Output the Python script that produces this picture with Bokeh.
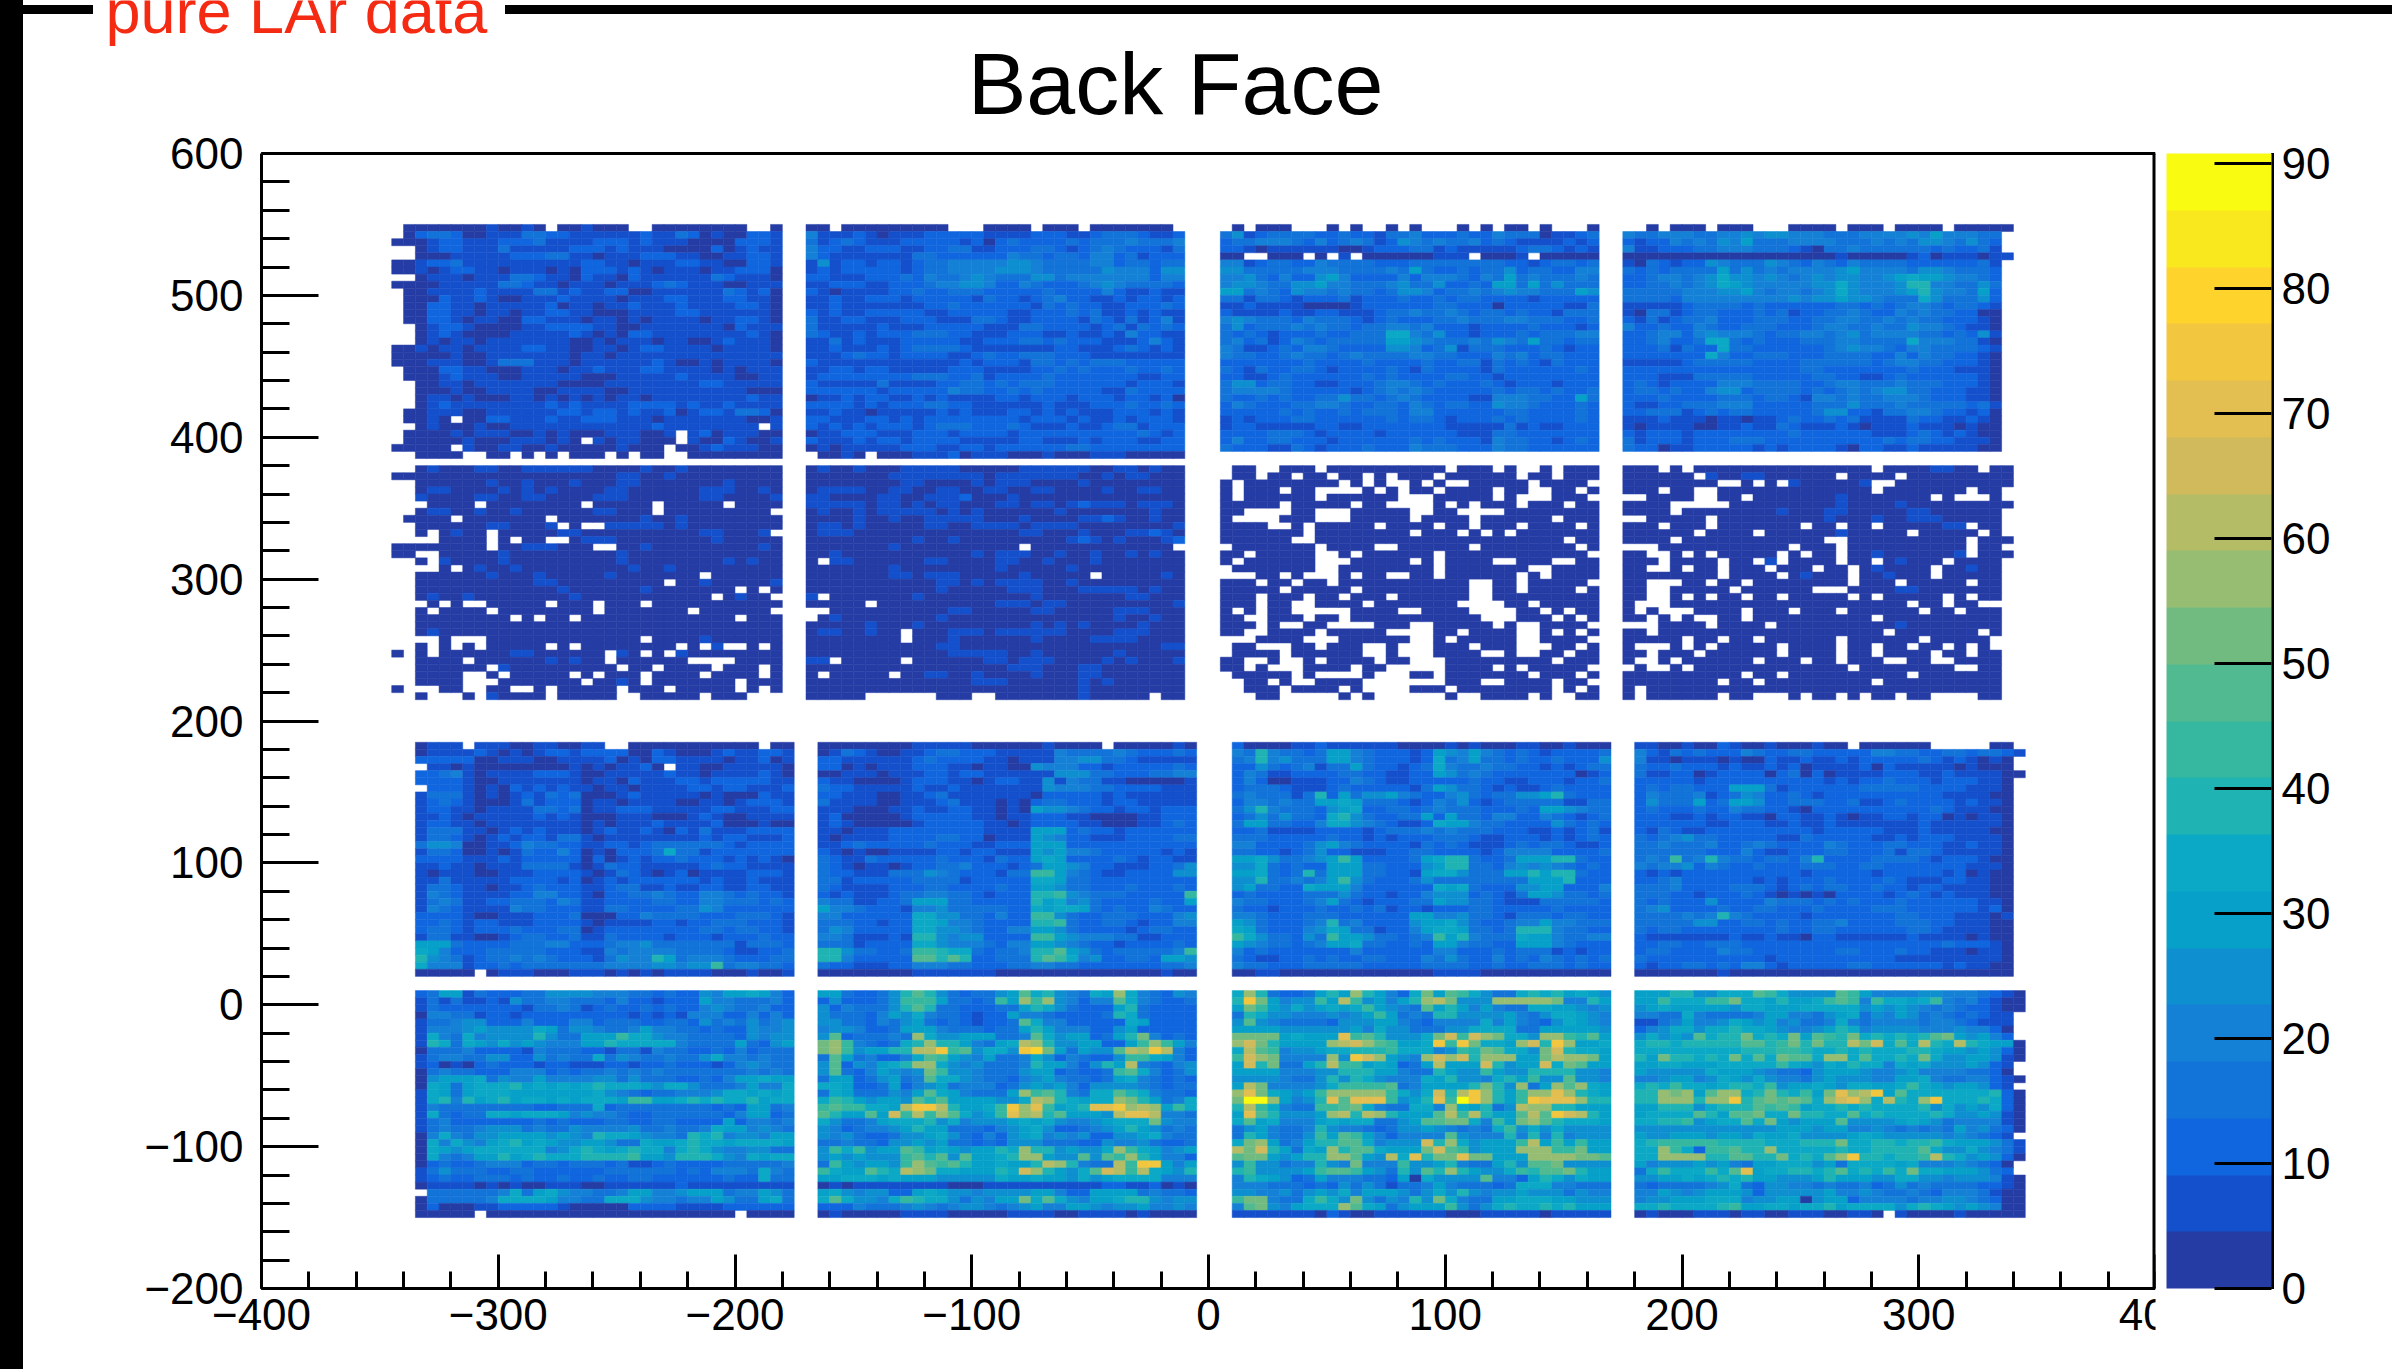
from bokeh.plotting import figure
from bokeh.embed import file_html
from bokeh.resources import INLINE
from bokeh.models import ColumnDataSource, Range1d, Label, FixedTicker, ColorBar, LinearColorMapper, InlineStyleSheet
from bokeh.transform import transform

# colour bands of the z scale
palette = ["#253CA5", "#1450CC", "#1066DF", "#1273D8", "#1581D6", "#0D8FD0", "#06A0C8", "#0CA9C6", "#20B3B3", "#35B89F",
           "#52BA90", "#72BB80", "#97BD72", "#B5BC66", "#D0BA5C", "#E2BF50", "#F3C63F", "#FED32B", "#FAE81F", "#F9FB10"]
z_max = 90.8
x_ticks = [-400, -300, -200, -100, 0, 100, 200, 300, 400]
y_ticks = [-200, -100, 0, 100, 200, 300, 400, 500, 600]
z_ticks = [0, 10, 20, 30, 40, 50, 60, 70, 80, 90]
title_text = "Back Face"
stamp_text = "pure LAr data"

# Estimated cell contents: '.' = empty bin, 0-9 a-j = colour band of the bin. Rows run top to bottom.
T1 = [  # x from -345, y from 550
".00000001 0010.001 000..000 00000..0",
".0233200 11133221 11111211 32010022 1",
"00012211 12223111 12221211 10000222 1",
"..012211 13111112 22121110 00020121 1",
"..000111 11222331 10111222 11001122 1",
"00122311 11111111 22110111 22110022 1",
"00101221 10111010 22212101 11011222 0",
"..011101 11332110 21102111 11132111 0",
"00001111 13321101 11011123 21110011 1",
".0011112 11113312 11220011 11113212 0",
".0002112 10011121 11101112 21112211 0",
".0022110 11111201 10112111 21111221 0",
".0022110 11011221 10001111 22111111 0",
".0022101 10022111 01101011 11011221 0",
"..012210 00011222 21100111 11110211 1",
"..012100 00111112 10102211 11111121 0",
"..010110 11111110 01011101 10012111 0",
"00101101 11122110 01101221 11101111 0",
"00000100 11111110 11011111 11111111 1",
"00011100 13331110 11111121 00101111 0",
".0002211 00011101 12111221 11101011 1",
".0001211 10011111 00011111 21111001 1",
"..001101 11111100 00111111 11221111 1",
"..000100 11110011 11001111 11111100 0",
"..011010 00110101 01011011 11111121 1",
"..012111 11111212 11112222 12112111 1",
".0011100 11111122 12212112 01221332 0",
".0010.00 22111211 22211101 11111100 1",
"..010001 00111111 11111121 1111111. 1",
".0000101 11001010 00111001 .1201110 0",
".0000010 00111010 .1011000 .1002100 1",
"00000.10 01100100 00010 00.0012111 0",
"..0000.. 00.0.0.0 00.0.00. .0000000 0",
]
T2 = [  # x from -170, y from 550
"00.00000 0000...0 000.000. 0000000. 00",
"41112101 11222221 11122211 23332112",
"31232111 22222120 23222232 33343334",
"42211222 11223311 22233212 34322213",
"42111111 13322222 24332332 44231222",
"15122122 12334444 45543333 44233233",
"12122222 12334444 55543333 35444255",
"22111222 32433454 33355344 44444244",
"11222112 22344554 22432223 45433332",
"21011112 23223332 22223222 24211211",
"11211222 12222213 22123422 11212212",
"11211111 11223222 22213232 21122232",
"21211222 22112222 21122232 31121211",
"31122111 22211133 21122221 32131241",
"31111121 11222221 11332222 12313232",
"32112122 23332211 12221121 12142211",
"11312111 22222112 22332322 21112421",
"11211121 23333211 11111221 11232121",
"11123221 22221123 22333222 11111111",
"21111111 11111212 22133232 33322222",
"11221221 11112221 11122323 22232232",
"12222222 23332231 22223222 22221122",
"21111131 11122332 32333222 22212221",
"22222212 22224332 23232222 21132222",
"01121221 12121111 22122212 22122120",
"22221212 22332211 11112111 22232232",
"11211011 11121211 12212121 11222121",
"22111221 21222222 22122212 11212221",
"21212122 21233322 23211121 12331222",
"01122211 12221222 21222222 22223212",
"21112122 12222111 11221112 12221122",
"01011111 22211221 22222233 22222222",
".0010.00 01112011 10001000 11100000",
]
T3 = [  # x from 5, y from 550
".0.000.. .0.0..0. 0...0.0. 00.0...0 ",
"35123333 22322133 42223224 33301123",
"23344432 42343125 43433423 21111212",
"22101111 11001222 33121111 12332121",
"00..000. 0.1.0000 00111.00 01.00000",
"44123322 43333222 33333333 22123323",
"55333334 44333343 63223233 52332244",
"44532422 56422224 24443243 63433343",
"45543355 64433345 33522326 63635333",
"66343254 43433235 54233434 54433365",
"33133212 22312223 22323322 22122222",
"11211110 00012222 22332220 22222113",
"21111211 22111233 43343233 23221333",
"45433324 33321232 22334333 44333223",
"35233343 43323344 34222122 22322212",
"32321222 32233377 43522122 23233344",
"34231243 23333366 54333435 43633233",
"43112324 43222255 42351333 22232122",
"43322343 32343333 44332224 34233222",
"22222223 22223222 23223313 23213222",
"32132233 21222232 13222213 22222232",
"22112322 22223232 22233221 22222222",
"35523322 11222344 32322232 12221222",
"34444322 22212343 43222223 23323223",
"32232322 33533234 32222114 44332263",
"24322233 44322332 43233225 44322232",
"22222323 22323332 44222222 33222232",
"12122233 22222232 33212223 23222232",
"12211111 22112222 22211111 31211222",
"22223332 12222122 22221113 32222222",
"24223322 21222222 32322214 33221232",
"32221132 12223222 43332224 33222222",
]
T4 = [  # x from 175, y from 550
"..0.000. 000...00 00.000.0 000.0000 0",
"43344433 44545544 43334444 54644433 .",
"21224343 54633344 44333434 35543532 .",
"41122233 44433321 03343333 33232231 .",
"00000000 00000000 00100000 12011101 1",
"10321225 43335432 43243333 22222231 .",
"32323333 63534344 44564444 35543332 .",
"22344345 75545434 54554456 76654432 .",
"22334345 76544444 55754445 88443353 .",
"33333444 55643443 45754445 68544362 .",
"33332444 44444454 55655433 37533352 .",
"11111233 33232222 22332323 44323321 .",
"10331233 22232312 23343224 34332200 .",
"21312334 22233322 33443343 43322210 .",
"42232243 22333222 34433433 54432110 .",
"22344245 44432334 43453444 43323251 .",
"22342237 73232223 33443333 74443310 .",
"22231322 73322222 23454432 44333321 .",
"22222227 42233322 23333224 24332210 .",
"11111233 33322223 33333234 43322210 .",
"22222222 22222223 32222222 32221110 .",
"22211133 33322222 33221123 22222210 .",
"23212222 44433332 23443334 33322210 .",
"23323224 55233332 32343455 33222110 .",
"22232222 33323321 44343344 43222110 .",
"21122333 44422222 33353334 33333231 .",
"22333123 23322222 35522133 44322120 .",
"11121110 11011232 23231111 32211210 .",
"10111100 11211321 11210111 21110100 .",
"21222122 22222232 22222111 23212100 .",
"31222122 23332222 22222232 33221110 .",
"32201122 22212122 22102211 21111100 .",
]
U1 = [  # x from -345, y from 380
"..010001 10011111 10000100 10000000 0",
"00000000 00000000 00011001 00000000 0",
"..000000 10010001 00011000 00001000 0",
"..011000 01010100 00110000 00111001 0",
"..100001 10011000 01110000 00110000 1",
"...0000. 00000000 .00000.0 0000.000 0",
"..011001 00100000 011000.0 00000000 .",
".0000.00 00000.00 00000100 10000000 0",
"..000000 110001.0 ..111110 10000000 0",
"..0.0100 .0000011 00000000 00110001 .",
"....0000 .0.00..0 11100000 00010000 0",
"00000000 .0011100 0..00100 00000001 0",
"00..0000 01000000 00010000 00000000 0",
"..0.1000 01000000 00010000 00001010 0",
"....0.01 00100000 00001001 00000000 0",
"..000000 10001000 00100000 00.00000 0",
"..000000 00001100 0000000. 00100000 1",
"..000000 00000010 00000100 00000.0. 0",
"..010010 00000001 00000000 000.0100 .",
"...0.0.. 00000.00 0.000.00 00000000 0",
"..0.0000 .0000000 0.000000 0.000000 .",
"..000000 00.0.00. 00000000 00000.00 0",
"..000000 00000000 00000000 00000000 0",
"..010000 00000000 00000000 00000000 0",
"....0... 00000000 00000.00 00100000 0",
"..0.0.0. 00000.0. 00000000 .0.1..0. 0",
"0.0.0000 00110000 00.10.0. 10000000 0",
"..0000.0 00000101 00.00000 0....000 0",
"..000000 .1000000 000.00.0 000.000. 0",
"..0000.. 0.00000. 0.000.00 00.0000. 0",
"..0000.. .0000000 .0010.00 00000.00 0",
"0...00.. 00..0.00 000.000. 00000.0. 0",
"..0...0. 10000.00 000..000 00.000.. .",
]
U2 = [  # x from -170, y from 380
"01001000 11111000 00111111 00110100",
"00000001 11111110 11111110 01011000",
"00000000 11000010 11100001 00000000",
"01111001 10011001 10011000 01001100",
"11000011 00111200 01000000 00000000",
"11111011 01011000 11011012 11101110",
"01001011 11101010 00000100 00000100",
"00001001 00111110 00100001 12100100",
"01101000 00110011 11011110 00000001",
"01110000 00000000 00110001 00011210",
"00000000 01001000 00000012 10100012",
"00000001 00000000 00.00000 0000000.",
"00100000 00000010 11100100 10010100",
"0.110000 00110000 11001000 10000000",
"00000001 00000000 10000010 00000000",
"00000001 10111000 00100000 .0000010",
"00000000 00011010 11110010 00000000",
"00000000 00010000 01110001 11110100",
"1.000000 01000000 00010000 00011000",
"00000.00 00000000 11101100 00000001",
"..000000 00001100 00011000 00111000",
".0100000 00010000 00000000 00100100",
"00000100 01000000 00010101 00001000",
"01100100 .0001110 11111100 00111000",
"00000000 .0001000 00010000 11110000",
"00000000 00011000 00000000 00000011",
"00000000 00001111 10010000 00100000",
"11.00000 .0000001 10111000 01010001",
"00000000 00000000 01110001 10000000",
"0.00000. 00110010 00010001 10000000",
"00000000 00000011 10000001 01000000",
"00000000 00000000 00000001 00000000",
"00000... ...000.. 00000001 00000.00",
]
U3 = [  # x from 5, y from 380
".00..000 .0000000 000.000. 0..0.000",
".00.00.0 0.00.0.0 00.00000 0.00.000",
"0.000000 00.0.0.. 0.0..000 00.0000.",
"0.000.00 ....0.0. 00.0000. 00..00.0",
"0.000000 .000000. ..00000. 0...000.",
"00000.00 000.00.. ..0.0.00 0.000.00",
"00....00 ...00000 ..00.... 00000000",
"0....000 ...00000 .0000.00 0000.000",
"0000..0. 00000.00 00.00.00 0.0000.0",
"0000000. 00000000 .000.0.0 .000000",
"000000.. 00000000 00000000 00000.0",
".0000000 .0000..0 00000.00 000000.0",
"00.00000 ..0.0000 00.00000 0000000.",
"0.000000 ...00000 .0.0000. .000..00",
".0000000 ..000000 00.00000 00..0000",
"...00.0. ..0.00.. 00.00000 0.0.0000",
"000.00.0 0.000000 00000..0 0.00000.",
"00000.00 000.0000 00000..0 0.0000.0",
"000.000. 00.000.0 00000..0 00000000",
"000.00.. 0000.000 0000.... 00.00000",
"0.0.00.. ...0000. .0000... .00.0.00",
"00..000. 00.00000 000000.. .000.0.0",
"000.0..0 0....000 ..00000. 0..0000.",
"00..0000 .00000.. ..00.000 0..0.0.0",
"...0000. ..000000 ..0.0000 0..0000.",
".00...00 .000..0. ..000.00 0...00.0",
".0000.00 0000..0. ..0000.. 0..00.00",
"00..0..0 .0000.00 ...00000 0000.000",
"00.0...0 000.00.. ...0000. 0.00000.",
".00000.0 ....0... 00.00000 00.000.0",
"..00.0.. 0000.... ...000.. 0000.00.",
"..000.00 00.0.... 000.0000 0000.0.0",
"...00... ..0.0... ...0..00 00.0..00",
]
U4 = [  # x from 175, y from 380
"000.0.00 00000000 00000.00 001100.0 0",
"000000.1 00110000 00.0000. 00000000 0",
"00000000 ..0.0.10 00001..0 00000000 0",
"000.00.. 00000000 00000.00 00000.00 .",
"..0000.. 00.00000 00100000 00.0...0 .",
"0000.... .0000000 00100001 00000000 0",
"0000.000 00000100 01100000 11000000 .",
"..00000. 00000000 01000100 11100000 .",
"000.000. 0000000. 00.00.00 00011.00 .",
"000000.0 000.0000 00100000 .00000.0 .",
"0000.000 00000000 0..00000 00000.00 0",
"...00000 000000.0 00.00000 00000.00 .",
"00..0.0. 00000.0. 00.00100 00001.00 0",
"000.0000 .00.1.00 00.00.01 000.0000 .",
"00..0.00 .000.000 .00.0100 00.00100 .",
"00000000 .0000.01 000.0010 00.00000 .",
"00...00. 00.00000 000.000. 00000.00 .",
"00..0000 0.000000 ...00001 10000000 .",
"00..0.0. 00.00.00 000.0.00 000.0.00 .",
"0...0000 00000000 00000000 .00.00.. .",
"0.0...00 00.000.0 00.00000 0.00.000 .",
"00.0.0.. 00.00000 00000.00 00000000 .",
"...0000. 0000.000 00000001 00000000 .",
"00.00000 00000000 000000.0 000000.0 .",
"00000.00 .00.0000 00.00000 0.00000. .",
"0...0.0. 00000.00 00.00.00 .00.0.0. .",
"00.000.0 00000.00 00.00.00 00.00.00 .",
"0..0.000 000.000. 00.000.. 00..0000 .",
".0..0.00 00000000 000.0000 0000..00 .",
"00000000 00.00.00 00000000 .0000000 .",
"00000000 .00.0000 00000.00 00000000 .",
"0.000000 00000000 00000000 00000000 .",
"0.000000 .00...0. 00.0.00. 00....00 .",
]
V1 = [  # x from -335, y from 185
"0111.111 00110011 ..000000 00000.00",
"01111210 10122122 22002100 01211221",
"22222001 11001111 20102211 11011201",
".1101000 00000101 01120.11 00111110",
"22341011 11222100 11111211 01111210",
"22221001 11111101 10211122 12222211",
".2221010 21212110 11011112 21221112",
"13331010 12132300 01211111 01000211",
"12321000 13122201 10111100 11012221",
"12211011 11332301 12221111 12211122",
"11210111 11212100 01110001 21001111",
"12211011 11111101 01112111 12000100",
"13331101 21211101 21121021 31112222",
"13321012 12213310 11111111 21221112",
"35540011 24332211 22123333 33212222",
"13320010 13224201 02223733 12222222",
"22221112 12222202 01212232 22121210",
"11211011 13333101 32211111 23221111",
"10111001 11222210 13210120 11112221",
"11311111 22221201 21222222 12112111",
"13321101 12322211 23311211 22112211",
"14321111 22442210 22334322 44323221",
"13431122 33324311 22223322 44333232",
"14321111 43322211 33222233 54222222",
"22221001 11222300 02243333 22233321",
"22321221 11222210 11112212 23332221",
"23321222 32223301 22222222 33233221",
"13311001 23322311 32222122 21222322",
"66632222 33344222 34453333 33313332",
"76422233 33322211 43444433 33211223",
"85431233 43432221 35448634 44322233",
"74441223 23333333 44445545 59344332",
"00000.01 11000111 01010111 10001001",
]
V2 = [  # x from -165, y from 185
"00000000 11111000 00010000 .0000010",
"01321001 12332221 11114333 34322232",
"22111111 23222211 01114455 33211111",
"22010111 22211011 00544422 12222232",
"00111011 12212211 11115553 32223344",
"21100001 22211012 21151433 11000001",
"32211111 21121111 11154443 32222111",
"22111001 12311111 11022222 12111111",
"31111001 11231110 10233222 12211111",
"11100011 21122110 10655432 21221222",
"12000001 22222110 11222110 00011222",
"12100000 12222211 01222211 00011232",
"11011122 22222211 11666232 21222222",
"10111122 22332201 11654221 11222233",
"11232222 23222112 22666222 22222222",
"21010011 11221221 11656443 22222121",
"32113222 22322213 22676222 23212211",
"32101101 22334222 12366542 21112235",
"32211133 35432221 33996432 11222255",
"33122222 33331222 22776332 22222222",
"32111122 23322223 22665332 22322232",
"21211123 34433212 22889543 33222229",
"43311223 66633222 22867453 22223226",
"64432221 44533333 22767763 23224322",
"44222222 77553324 22995322 33322245",
"33322122 77644322 22889322 33212244",
"35422222 77554322 44665322 22123322",
"44311121 88545522 22996544 43311222",
"33312222 77544432 44665432 21222232",
"88533223 99877323 3488a653 23333349",
"88422222 aa8a8223 338a9745 22332665",
"32211122 44433222 33443322 22222334",
"00000000 11111110 00000000 00000100",
]
V3 = [  # x from 10, y from 185
"20000112 11111100 00101000 11001000",
"43843323 66432221 26546432 32122223",
"34845333 66432221 27346332 32232225",
"22532341 33632212 37433433 22121233",
"24311222 23322112 26534322 22222012",
"24200111 22432112 22223221 12221223",
"23332111 23222221 36533212 11232222",
"34333138 26355643 22453233 55683222",
"24434336 67633321 24352123 33331133",
"35843332 56722332 34333222 32665433",
"23535332 78532233 62633244 22432123",
"36633224 77543211 27664332 22253232",
"22311112 22212333 43433322 21121231",
"33322222 32212122 23332112 22121232",
"44222235 64322221 32321112 32332112",
"33221235 22111223 32222124 44422223",
"66753345 69622223 67883223 66688322",
"55732322 66633222 56883324 54543232",
"66732383 66633221 67753336 68688322",
"55833434 69532223 53333333 36668222",
"56332276 66422222 27673222 55662224",
"23222233 35322122 45552321 36653323",
"43322234 63212223 36553321 11333332",
"32212223 22323122 12223322 22232222",
"44322233 32222226 64453321 33323322",
"65322234 83422225 66753223 44644333",
"76322245 76331224 67763323 88843322",
"97533253 96653323 49684333 76643344",
"65433234 66733223 26643322 66643222",
"42322222 22422222 24422232 33312122",
"32112232 32233222 43532242 32432323",
"43322233 33322222 33332232 23332322",
"00110000 00000000 01111000 00000000",
]
V4 = [  # x from 180, y from 185
"11001002 10010001 00.00000 0.....00 .",
"42132322 24322332 22224433 22332332 1",
"41101110 10021121 12122222 32121010 .",
"32232221 21121201 11120211 11101000 .",
"31122012 22202302 01111222 11211110 0",
"22222122 22222222 12122322 21222110 .",
"23233222 66631222 22233333 22221110 .",
"24333412 35422321 22222222 22111100 .",
"25333623 66522333 22311232 22212110 .",
"23222322 43322102 22222222 23211100 .",
"22211212 21102211 21011221 22010110 .",
"22222211 22211211 21111111 21111110 .",
"21321122 22222221 22222111 21111100 .",
"32345332 22221132 22221121 22211110 .",
"33433342 23432222 43222332 22112110 .",
"33333322 24211222 33222313 32111110 .",
"34393484 33233248 22223333 21222100 .",
"43445243 22322233 32233222 22221110 .",
"21212222 22222212 22221222 22120100 .",
"22342222 22121222 32222321 11221100 .",
"33342222 33321232 33223221 22111100 .",
"33322122 23210101 02222123 21211100 .",
"32322252 22243332 32322232 22222110 .",
"34522223 22332223 22223332 22222120 .",
"33334348 43222212 22222233 22211101 .",
"33333552 23323223 34222233 32211100 .",
"32332222 22223223 32222223 32111100 .",
"21111111 21121102 21111112 11110100 .",
"22332233 32222222 22222222 22322210 .",
"23322224 33222222 23322232 21110110 .",
"32222222 22212222 22222211 11111110 .",
"21223323 24421222 22332222 22121100 .",
"00000001 00000000 00000000 00000000 .",
]
W1 = [  # x from -335, y from 10
"23661322 23355554 44332322 54667642",
"13131121 53344333 24221222 64433342",
"13222222 21334312 32232322 45433422",
"04433122 12222222 22121214 44224242",
"13345522 24222442 33322332 53435345",
"14445655 55763554 33464433 23225445",
"17437455 55853366 69775443 33325455",
"18737657 56544466 87777743 33363256",
"03334222 21433322 13314332 23242333",
"13443355 22534337 35433433 57443433",
"12010232 22122111 22122322 21245433",
"03433222 44423233 43434333 33334343",
"05666735 44644445 53533322 32466766",
"07636777 86767678 77765775 33346447",
"17636777 66666667 54323344 45776767",
"17848678 67767677 76996678 78778677",
"14333333 33223337 23333333 32326634",
"17323377 67776454 43223333 33246623",
"13422222 22323222 33223322 22624434",
"13433455 53433544 44533433 47664543",
"04743556 66656548 77654438 78455466",
"07475467 86765566 53376678 77677776",
"07656777 77745787 67877478 75445533",
"07434668 67877788 88966588 87547677",
"02322344 42332333 23112322 22333334",
"13533322 33222222 33333323 24443743",
"12322333 23223223 22332222 22322733",
"01111010 10011100 11111121 11111111",
".3333334 73675443 34664456 66344653",
"03333347 77764433 77754434 46533673",
"02000112 22221000 00222211 11222222",
"00000.00 00000000 00000000 000.0000",
]
W2 = [  # x from -165, y from 10
"66322358 a8532335 6a785437 6c743254",
"25222359 99633239 6c9c5424 4a743223",
"52433358 a8332223 36875322 26832222",
"53332465 74332122 64432222 38732222",
"55332435 63232122 3a744222 22762222",
"45542236 66433323 36864442 25622222",
"5a233343 c7556663 34a75662 368b4232",
"bc943237 8c886436 7dc85566 2269c964",
"bc956688 ddg9a577 5ghb6365 5adcgd42",
"3a634224 7a965463 34752432 25997642",
"5a254678 cc754533 34866425 86d43245",
"5a324654 5b955433 35662322 39a74235",
"36623563 4a775433 24564332 36743232",
"77622362 45634442 35656425 55543233",
"37633354 6a764333 6c9a8437 7a874332",
"79865665 a8a66665 57dc8767 7cb86347",
"9a99776d ggd86679 gcf9678f fgcdc697",
"a866a6e9 d9ca7569 fcd8a666 5dffd443",
"75334677 78574555 67675445 6777b544",
"54234456 86633324 56752234 56865343",
"54532235 56753242 56745452 25567433",
"33433255 65633232 55533322 54453223",
"5979566a 96765668 7c885655 7c976456",
"56565559 a8a5a667 8cc655a5 a9c86442",
"39656659 ca9a8667 668dc843 3d9gg646",
"9766a87d cb776668 7ec8657a ed9d7658",
"66777676 66555557 66766575 67777444",
"01011111 11100011 11111111 22112010",
"67545522 67655455 55664226 66634332",
"7a755479 87753546 6b7a7546 67885455",
"22243334 54345543 45644665 45564454",
"01000001 11100000 11110011 11010000",
]
W3 = [  # x from 10, y from 10
"7c832236 86c86427 b6a97533 78786765",
"8gb64559 6d956468 cdb555cc cccb4486",
"6b965756 76796543 a6864643 37766545",
"38755444 54569634 38855556 43577654",
"5a543333 25556643 24444746 43257654",
"66665555 55647553 33557777 33666665",
"bbbb6766 6f9a8555 7be9ecb7 75cc98a6",
"ceb86666 cdeca966 7g9gb776 ce8gc667",
"7da94556 77888977 74598ba7 75be8776",
"9ecb4444 c5gec654 cece8ccc 66bdccb6",
"6e8b3368 d9967623 6d666e85 66e7ba66",
"66664445 58886643 38655965 58888554",
"55554335 85875444 76855478 6955a554",
"6db44445 79999a34 66668b85 c36cac76",
"cfb76569 ccccc975 7e8dgc86 9ccfc876",
"bjjc6458 fafff956 8f9jgc86 9gfffc88",
"8d974339 9ab74337 74c76835 dcc88666",
"6fa85556 cd8dc866 6ad9d866 adaged86",
"7a674446 76773356 aabb7496 bca87776",
"35643348 54432355 65434379 57575555",
"38643359 6a964244 44a54448 48484555",
"7bc63468 8aa74555 e8c75666 9d696966",
"dbe86376 c8aa7666 bea95666 ccc99b66",
"abb65688 cca65d7f 8bbfbb66 6ccccbba",
"59553448 54b44495 56843368 5aab5555",
"89555569 aa965385 a8c86557 98aab866",
"48765236 44433260 75555a44 26875766",
"44433323 25353133 46433323 77744333",
"55445356 57466653 57585455 65553544",
"9bb43379 75b53548 5b743366 77766555",
"4ab54677 7ca76356 66953578 77878666",
"11111110 21001111 11000111 11011111",
]
W4 = [  # x from 180, y from 10
"66688557 77a97555 5a964444 55444321 0",
"66977799 b7768667 9a949776 79434210 0",
"56766666 57766677 77756565 43432210 0",
"44337433 33466443 56735465 34323211 .",
"11346445 76564533 47434444 34432111 .",
"24577577 87765445 68745555 44454420 .",
"57565a78 8b787b6a 98b78787 8ab65642 .",
"78878888 8aa89b8b 88dbe7a7 d87d8766 0",
"77777777 78889987 78787778 87665652 0",
"86b88787 b7a7baa7 cc7a7787 b7556651 0",
"66776667 77779765 76877476 75556521 .",
"65555576 66543325 66654456 44443320 .",
"44566457 65754435 65554466 74334421 0",
"78797767 88795667 65776679 76566521 .",
"88cbc6ac c78b8796 bfcdg6a7 77777782 0",
"88ccc8cc g8ababa7 cefc7d87 cg777872 0",
"66888578 88a9a967 78787777 85756572 0",
"67777a86 aab77b88 77a78777 78755651 0",
"77889567 7a7b6566 6a555567 65344441 0",
"55555555 55556665 66445434 34364532 0",
"65566656 65766755 55676555 55454321 .",
"78999998 88877788 8b778878 89766653 1",
"77c97299 a88c7777 78778888 a7557543 1",
"77cccc88 aa88b787 acg88788 9d875652 0",
"64555656 43667775 63777767 44454320 .",
"37977797 af677887 8a78797b 77666532 .",
"55667678 78665556 86665577 55455541 0",
"32333345 73255443 43342353 43333221 0",
"44654566 65255555 64454334 32444310 0",
"45566677 74556605 66244443 44554320 0",
"77877778 96677677 86777757 87656540 0",
"01000111 01100111 00110.10 00010000 0",
]

# block: (rows, x of left edge, y of top edge, number of columns)
blocks = [(T1, -345, 550, 33), (T2, -170, 550, 32), (T3, 5, 550, 32), (T4, 175, 550, 33),
          (U1, -345, 380, 33), (U2, -170, 380, 32), (U3, 5, 380, 32), (U4, 175, 380, 33),
          (V1, -335, 185, 32), (V2, -165, 185, 32), (V3, 10, 185, 32), (V4, 180, 185, 33),
          (W1, -335, 10, 32), (W2, -165, 10, 32), (W3, 10, 10, 32), (W4, 180, 10, 33)]
bin_size = 5
band = z_max / len(palette)
digits = "0123456789abcdefghij"

left, right, top, bottom, z = [], [], [], [], []
for rows, x0, y0, ncols in blocks:
    for j, row in enumerate(rows):
        row = row.replace(" ", "")
        row = row[:ncols].ljust(ncols, row[-1])
        for i, ch in enumerate(row):
            if ch == ".":
                continue
            left.append(x0 + i * bin_size)
            right.append(x0 + (i + 1) * bin_size)
            top.append(y0 - j * bin_size)
            bottom.append(y0 - (j + 1) * bin_size)
            z.append((digits.index(ch) + 0.5) * band)

CW, CH = 2392, 1369
FL, FR, FT, FB = 261, 2155, 153, 1288
# the frame runs to the page's top, left and bottom, so no text is clipped; the axes stay on the drawn box
x_start = -400 - FL * 800 / (FR - FL)
y_top = 600 + FT * 800 / (FB - FT)
y_start = -200 - (CH - FB) * 800 / (FB - FT)
p = figure(width=CW, height=CH, x_range=Range1d(x_start, 400), y_range=Range1d(y_start, y_top),
           output_backend="svg", toolbar_location=None, min_border_left=0, min_border_right=CW - FR,
           min_border_top=0, min_border_bottom=0, background_fill_color=None, border_fill_color=None)
p.stylesheets = [InlineStyleSheet(css=""":host{background:
 linear-gradient(#000,#000) 0 0/23px 100% no-repeat,
 linear-gradient(#000,#000) 0 5px/93px 9px no-repeat,
 linear-gradient(#000,#000) 505px 5px/1887px 9px no-repeat,
 linear-gradient(#000,#000) 2271px 153px/3px 1136px no-repeat;}""")]
p.xgrid.visible = False
p.ygrid.visible = False
p.outline_line_color = None

mapper = LinearColorMapper(palette=palette, low=0, high=z_max)
src = ColumnDataSource(dict(left=left, right=right, top=top, bottom=bottom, z=z))
p.quad(left="left", right="right", top="top", bottom="bottom", source=src,
       fill_color=transform("z", mapper), line_color=transform("z", mapper), line_width=0.5)
p.line(x=[-400, 400], y=[600, 600], line_color="black", line_width=3)
p.line(x=[400, 400], y=[-200, 600], line_color="black", line_width=6)

def minor(lo, hi):
    return list(range(lo, hi + 1, 20))

p.xaxis[0].ticker = FixedTicker(ticks=x_ticks, minor_ticks=minor(-400, 400))
p.yaxis[0].ticker = FixedTicker(ticks=y_ticks, minor_ticks=minor(-200, 600))
p.xaxis[0].bounds = (-400, 400)
p.yaxis[0].bounds = (-200, 600)
p.xaxis[0].fixed_location = -200
p.yaxis[0].fixed_location = -400
for ax in (p.xaxis[0], p.yaxis[0]):
    ax.axis_line_width = 3
    ax.major_tick_line_width = 3
    ax.minor_tick_line_width = 3
    ax.major_label_text_font = "Liberation Sans"
    ax.major_label_text_font_size = "44px"
    ax.major_label_text_color = "black"
p.xaxis.major_tick_in = 34
p.xaxis.major_tick_out = 0
p.xaxis.minor_tick_in = 17
p.xaxis.minor_tick_out = 0
p.xaxis.major_label_standoff = 10
p.yaxis.major_tick_in = 57
p.yaxis.major_tick_out = 0
p.yaxis.minor_tick_in = 28
p.yaxis.minor_tick_out = 0
p.yaxis.major_label_standoff = 18

cb = ColorBar(color_mapper=mapper, ticker=FixedTicker(ticks=z_ticks), width=105, height=FB - FT, margin=0, padding=0,
              border_line_color=None, bar_line_color=None, major_tick_in=57, major_tick_out=0, major_tick_line_color="black",
              major_tick_line_width=3, minor_tick_line_color=None, major_label_text_font="Liberation Sans",
              major_label_text_font_size="44px", major_label_text_color="black", label_standoff=10,
              location=(11, CH - FB), background_fill_color=None)
p.add_layout(cb, "right")

p.add_layout(Label(x=105, y=CH - 10, x_units="screen", y_units="screen", text=stamp_text, text_font="Liberation Sans",
                   text_font_size="63px", text_color="#F42A13", text_baseline="alphabetic", text_align="left"))
p.add_layout(Label(x=1175, y=CH - 83, x_units="screen", y_units="screen", text=title_text, text_font="Liberation Sans",
                   text_font_size="88px", text_color="black", text_baseline="alphabetic", text_align="center"))
open("out.html", "w").write(file_html(p, INLINE))
